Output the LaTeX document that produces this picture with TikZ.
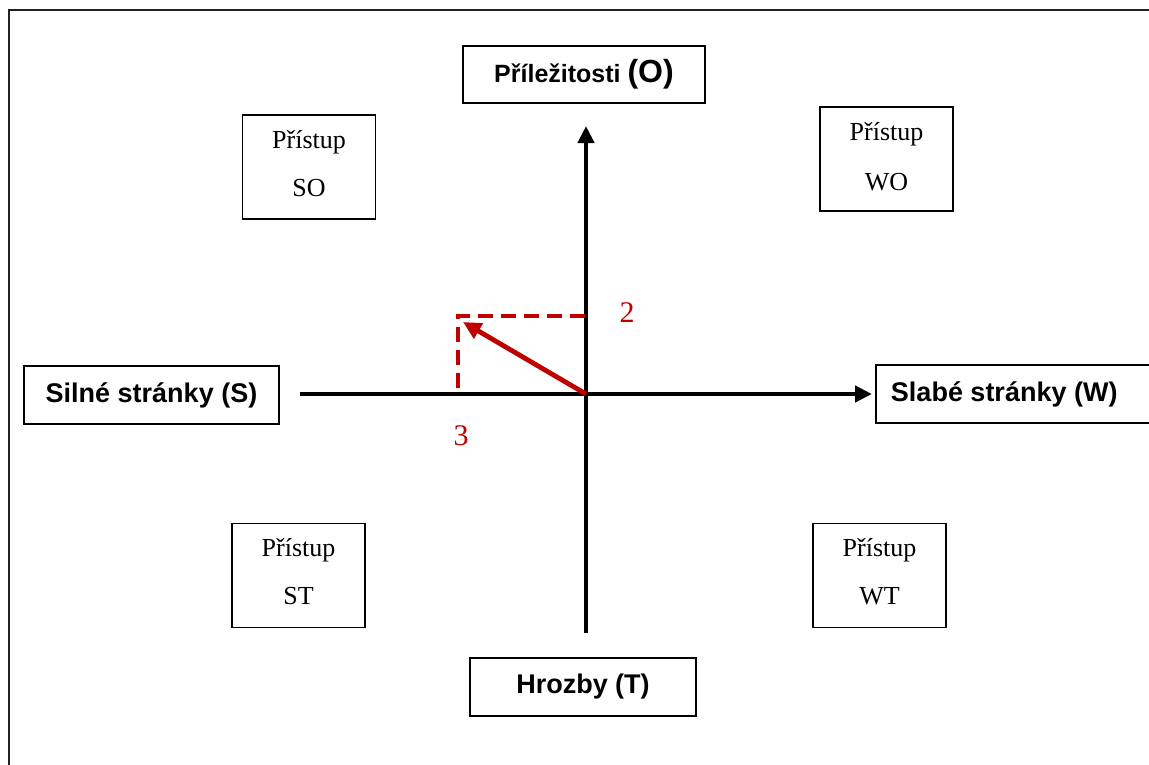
\documentclass[tikz,border=0pt]{standalone}
\usepackage{fontspec}
\setmainfont{Liberation Serif}
\setsansfont{Liberation Sans}
\usetikzlibrary{arrows.meta}
\definecolor{swotred}{HTML}{C00000}
\definecolor{framegray}{HTML}{222222}
\tikzset{
  axisbox/.style={draw=black, line width=1.5pt, fill=white, inner sep=0pt,
    font=\sffamily\bfseries\fontsize{27}{32}\selectfont},
  stratbox/.style={draw=black, line width=1.5pt, fill=white, inner sep=0pt,
    minimum width=133pt, minimum height=104pt},
  strattext/.style={font=\fontsize{26}{30}\selectfont, inner sep=0pt},
  axisline/.style={line width=4.8pt, -{Triangle[length=17pt,width=16pt]}},
  plainaxis/.style={line width=4.8pt},
  redvec/.style={draw=swotred, line width=4.8pt, -{Triangle[length=18pt,width=17pt]}},
  redguide/.style={draw=swotred, line width=4.8pt, dash pattern=on 15pt off 8pt},
  rednum/.style={text=swotred, font=\fontsize{30}{32}\selectfont, inner sep=0pt}
}
\begin{document}
\begin{tikzpicture}[x=1pt, y=-1pt]
  \useasboundingbox (0,0) rectangle (1149,764);
  \fill[white] (0,0) rectangle (1149,764);
  % outer frame (left and top edges only)
  \draw[framegray, line width=2pt] (9,770) -- (9,10) -- (1160,10);

  % axes
  \coordinate (origin) at (586,394);
  \coordinate (sEnd) at (300,394);
  \coordinate (wEnd) at (872,394);
  \coordinate (tEnd) at (586,633);
  \coordinate (oEnd) at (586,126);
  \draw[plainaxis] (sEnd) -- (origin);
  \draw[axisline] (origin) -- (wEnd);
  \draw[plainaxis] (tEnd) -- (origin);
  \draw[axisline] (origin) -- (oEnd);

  % axis labels
  \node[axisbox, font=\sffamily\bfseries\fontsize{25}{30}\selectfont,
        minimum width=242pt, minimum height=57pt] (opp) at (584,74.5)
    {Příležitosti \fontsize{32}{34}\selectfont(O)};
  \node[axisbox, minimum width=255pt, minimum height=58pt] (str) at (151.5,395)
    {Silné stránky (S)};
  \node[axisbox, minimum width=290pt, minimum height=58pt, anchor=west] (weak) at (875,394)
    {\hspace*{-9pt}Slabé stránky (W)\hspace*{24pt}};
  \node[axisbox, minimum width=226pt, minimum height=58pt] (thr) at (583,687)
    {Hrozby (T)};

  % strategy boxes
  \node[stratbox] (so) at (309,167) {};
  \node[strattext] at (309,142) {Přístup};
  \node[strattext] at (309,188) {SO};
  \node[stratbox] (wo) at (886.5,159) {};
  \node[strattext] at (886.5,134) {Přístup};
  \node[strattext] at (886.5,182) {WO};
  \node[stratbox] (st) at (298.5,575.5) {};
  \node[strattext] at (298.5,550) {Přístup};
  \node[strattext] at (298.5,596) {ST};
  \node[stratbox] (wt) at (879.5,575.5) {};
  \node[strattext] at (879.5,550) {Přístup};
  \node[strattext] at (879.5,596) {WT};

  % resulting strategy vector
  \coordinate (oMark) at (585,316);
  \coordinate (corner) at (458,316);
  \coordinate (sMark) at (458,394);
  \coordinate (vecTip) at (463,322);
  \draw[redguide] (oMark) -- (corner) -- (sMark);
  \draw[redvec] (origin) -- (vecTip);
  \node[rednum] (n2) at (627,313) {2};
  \node[rednum] (n3) at (461,436) {3};
\end{tikzpicture}
\end{document}
